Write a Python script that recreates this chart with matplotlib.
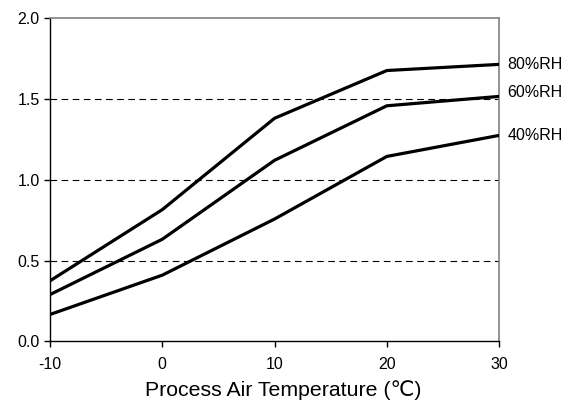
import matplotlib
matplotlib.use('Agg')
import matplotlib.pyplot as plt

plt.rcParams['font.family'] = ['Liberation Sans', 'DejaVu Sans']
plt.rcParams['axes.unicode_minus'] = False

# Datos
temps = [-10, 0, 10, 20, 30]
rh80 = [0.375, 0.815, 1.38, 1.675, 1.713]
rh60 = [0.29, 0.632, 1.12, 1.457, 1.515]
rh40 = [0.167, 0.41, 0.757, 1.144, 1.274]
series_labels = ['80%RH', '60%RH', '40%RH']
label_offsets = [0, 3, 0]   # desplazamiento vertical de las etiquetas (pt)

fig = plt.figure(figsize=(5.78, 4.08), dpi=100)
ax = fig.add_axes([0.0865, 0.163, 0.777, 0.793])

for yy in [0.5, 1.0, 1.5]:
    ax.axhline(yy, color='black', lw=0.8, ls=(0, (6, 4)), zorder=1)

for vals, lab, off in zip([rh80, rh60, rh40], series_labels, label_offsets):
    ax.plot(temps, vals, color='black', lw=2.3, zorder=3, solid_capstyle='butt')
    ax.annotate(lab, xy=(temps[-1], vals[-1]), xytext=(6, off),
                textcoords='offset points', va='center', ha='left',
                fontsize=11.5, annotation_clip=False)

ax.set_xlim(-10, 30)
ax.set_ylim(0, 2.0)
ax.set_xticks([-10, 0, 10, 20, 30])
ax.set_yticks([0, 0.5, 1.0, 1.5, 2.0])
ax.set_yticklabels(['0.0', '0.5', '1.0', '1.5', '2.0'])
ax.tick_params(labelsize=11.5, length=4, width=1, color='black')
ax.tick_params(axis='x', pad=7)

for s in ['left', 'bottom']:
    ax.spines[s].set_color('black')
    ax.spines[s].set_linewidth(1.0)
for s in ['top', 'right']:
    ax.spines[s].set_color('#808080')
    ax.spines[s].set_linewidth(1.2)

ax.set_xlabel('Process Air Temperature (\u2103)', fontsize=15.3, labelpad=6)
ax.xaxis.label.set_x(0.52)

fig.savefig('out.png', dpi=100)
